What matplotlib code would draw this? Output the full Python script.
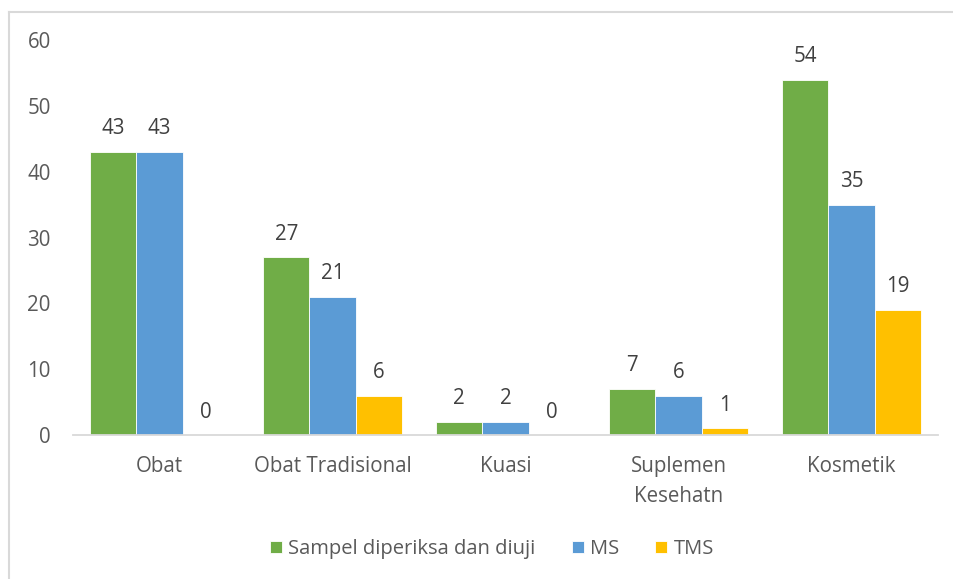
import numpy as np
import matplotlib.pyplot as plt
from matplotlib.lines import Line2D

categories = ["Obat", "Obat Tradisional", "Kuasi", "Suplemen\nKesehatn", "Kosmetik"]
series_names = ["Sampel diperiksa dan diuji", "MS", "TMS"]
sampel = [43, 27, 2, 7, 54]
ms = [43, 21, 2, 6, 35]
tms = [0, 6, 0, 1, 19]
colors = ["#70AD47", "#5B9BD5", "#FFC000"]

plt.rcParams['font.family'] = ['Open Sans', 'DejaVu Sans']
text_color = "#595959"
fs = 14.8

fig = plt.figure(figsize=(9.54, 5.79), dpi=100)
ax = fig.add_axes([73 / 954, 1 - 435 / 579, 865 / 954, 395 / 579])

x = np.arange(len(categories))
w = 0.8 / 3
for i, (vals, name) in enumerate(zip([sampel, ms, tms], series_names)):
    pos = x + (i - 1) * w
    bars = ax.bar(pos, vals, w, color=colors[i], label=name,
                  edgecolor="#ffffff", linewidth=0.6)
    for b, v in zip(bars, vals):
        ax.annotate(str(v), (b.get_x() + b.get_width() / 2, v),
                    xytext=(0, 9), textcoords="offset points",
                    ha="center", va="bottom", fontsize=fs, color="#404040")

ax.set_xlim(-0.5, len(categories) - 0.5)
ax.set_ylim(0, 60)
ax.set_yticks(range(0, 61, 10))
ax.set_xticks(x)
ax.set_xticklabels(categories, linespacing=1.6)
ax.tick_params(axis="both", length=0, labelsize=fs, labelcolor=text_color)
ax.tick_params(axis="y", pad=16)
ax.tick_params(axis="x", pad=15)
for s in ["top", "right", "left"]:
    ax.spines[s].set_visible(False)
ax.spines["bottom"].set_color("#D9D9D9")
ax.spines["bottom"].set_linewidth(1.3)

leg = fig.legend(loc="center", bbox_to_anchor=(492 / 954, 1 - 549 / 579), ncol=3,
                 frameon=False, fontsize=14.5, handlelength=0.6, handleheight=0.6,
                 handletextpad=0.3, columnspacing=1.8)
for t in leg.get_texts():
    t.set_color(text_color)

# chart border (top and left edges visible)
fig.add_artist(Line2D([9 / 954, 1.0], [1 - 12 / 579, 1 - 12 / 579],
                      transform=fig.transFigure, color="#D9D9D9", linewidth=1.5))
fig.add_artist(Line2D([9 / 954, 9 / 954], [0.0, 1 - 12 / 579],
                      transform=fig.transFigure, color="#D9D9D9", linewidth=1.5))

fig.savefig("out.png", dpi=100, facecolor="white")
